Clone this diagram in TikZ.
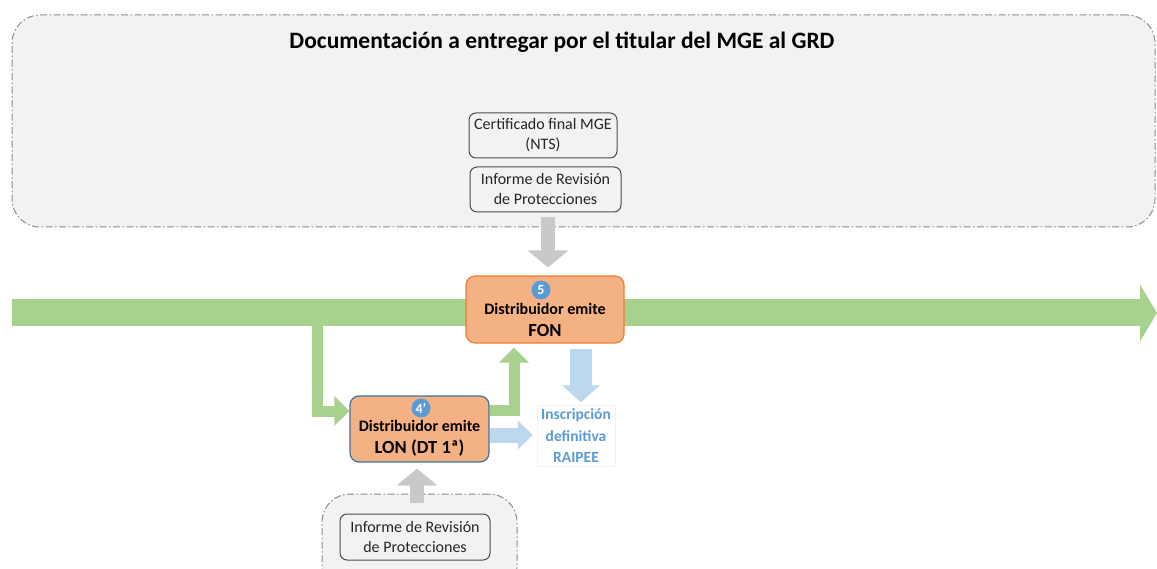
\documentclass[tikz,border=0pt]{standalone}
\usepackage{fontspec}
\setmainfont{Carlito}
\usetikzlibrary{arrows.meta}
\definecolor{boxgray}{HTML}{F2F2F2}
\definecolor{dashgray}{HTML}{8C8C8C}
\definecolor{grn}{HTML}{A9D18E}
\definecolor{orfill}{HTML}{F4B183}
\definecolor{ordraw}{HTML}{ED7D31}
\definecolor{bludraw}{HTML}{41719C}
\definecolor{numblue}{HTML}{5B9BD5}
\definecolor{lblue}{HTML}{BDD7EE}
\definecolor{arrgray}{HTML}{C9C9C9}
\definecolor{txtgray}{HTML}{262626}
\pgfdeclarelayer{back}
\pgfdeclarelayer{mid}
\pgfsetlayers{back,mid,main}
\tikzset{
  group/.style={draw=dashgray, fill=boxgray, line width=1pt, rounded corners=28pt,
    dash pattern=on 7pt off 2.5pt on 1.5pt off 2.5pt, inner sep=0pt},
  docbox/.style={draw=black!70, fill=boxgray, line width=1pt, rounded corners=7pt,
    inner sep=0pt, align=center, text=txtgray, font=\fontsize{16}{20}\selectfont},
  actbox/.style={fill=orfill, line width=1.2pt, rounded corners=9pt, inner sep=0pt},
  acttext/.style={align=center, inner sep=0pt, text=black},
  num/.style={circle, fill=numblue, text=white, inner sep=0pt, minimum size=19pt,
    font=\bfseries\fontsize{14}{14}\selectfont},
  grnthick/.style={draw=grn, line width=27pt, line join=miter, -{Triangle[length=17pt,width=56pt]}},
  grnthin/.style={draw=grn, line width=11pt, line join=miter, -{Triangle[length=15pt,width=29pt]}},
  bluedown/.style={draw=lblue, line width=22pt, -{Triangle[length=17pt,width=37pt]}},
  blueright/.style={draw=lblue, line width=15pt, -{Triangle[length=15pt,width=28pt]}},
  grayarr/.style={draw=arrgray, line width=14pt, -{Triangle[length=17pt,width=40pt]}},
}
\begin{document}
\begin{tikzpicture}[x=1pt,y=-1pt]
\useasboundingbox (0,0) rectangle (1157,569);
\clip (0,0) rectangle (1157,569);

% groups
\begin{pgfonlayer}{back}
\node[group, minimum width=1143pt, minimum height=212pt] (topgrp) at (583.5,121) {};
\node[group, minimum width=195pt, minimum height=100pt] (botgrp) at (419.5,544) {};
\end{pgfonlayer}

\node[font=\bfseries\fontsize{23.5}{28}\selectfont, inner sep=0pt] (title) at (562,42)
  {Documentación a entregar por el titular del MGE al GRD};

\node[docbox, minimum width=148pt, minimum height=45pt] (cert) at (543,135.5)
  {Certificado final MGE\\(NTS)};
\node[docbox, minimum width=151pt, minimum height=45pt] (inf1) at (545.5,189.5)
  {Informe de Revisión\\de Protecciones};
\node[docbox, minimum width=150pt, minimum height=46pt] (inf2) at (415,537)
  {Informe de Revisión\\de Protecciones};

% action boxes
\node[actbox, draw=ordraw, minimum width=158pt, minimum height=67pt] (fon) at (545,309.5) {};
\node[num] (n5) at (541,290) {5};
\node[acttext, font=\bfseries\fontsize{16}{22}\selectfont] (fontxt) at (545,319.5)
  {Distribuidor emite\\{\fontsize{18.5}{22}\selectfont FON}};

\node[actbox, draw=bludraw, minimum width=139pt, minimum height=66pt] (lon) at (419.5,429) {};
\node[num] (n4) at (421,408) {4'};
\node[acttext, font=\bfseries\fontsize{16}{22}\selectfont] (lontxt) at (419.5,438.5)
  {Distribuidor emite\\{\fontsize{18.5}{22}\selectfont LON (DT 1ª)}};

\node[draw=black!6, fill=white, minimum width=78pt, minimum height=61pt, inner sep=0pt,
  align=center, text=numblue, font=\bfseries\fontsize{15.5}{21.5}\selectfont] (raipee) at (576,436)
  {Inscripción\\definitiva\\RAIPEE};

% connectors
\coordinate (gs) at (12,313);
\coordinate (ge) at (1157,313);
\coordinate (b1) at (317,320);
\begin{pgfonlayer}{mid}
\draw[grnthick] (gs) -- (ge);
\draw[grnthin] (b1) |- ([yshift=18pt]lon.west);
\draw[grnthin, shorten >=4pt] ([yshift=19pt]lon.east) -| ([xshift=-31pt]fon.south);
\draw[bluedown, shorten <=5pt, shorten >=3pt] ([xshift=36pt]fon.south) -- ([xshift=5pt]raipee.north);
\draw[blueright, shorten >=4pt] ([yshift=-6pt]lon.east) -- ([yshift=-6pt]lon.east -| raipee.west);
\draw[grayarr, shorten <=5pt, shorten >=8pt] ([xshift=2.5pt]inf1.south) -- ([xshift=2.5pt]inf1.south |- fon.north);
\draw[grayarr, shorten <=11pt, shorten >=6pt] ([xshift=2pt]inf2.north) -- ([xshift=2pt]inf2.north |- lon.south);
\end{pgfonlayer}
\end{tikzpicture}
\end{document}
